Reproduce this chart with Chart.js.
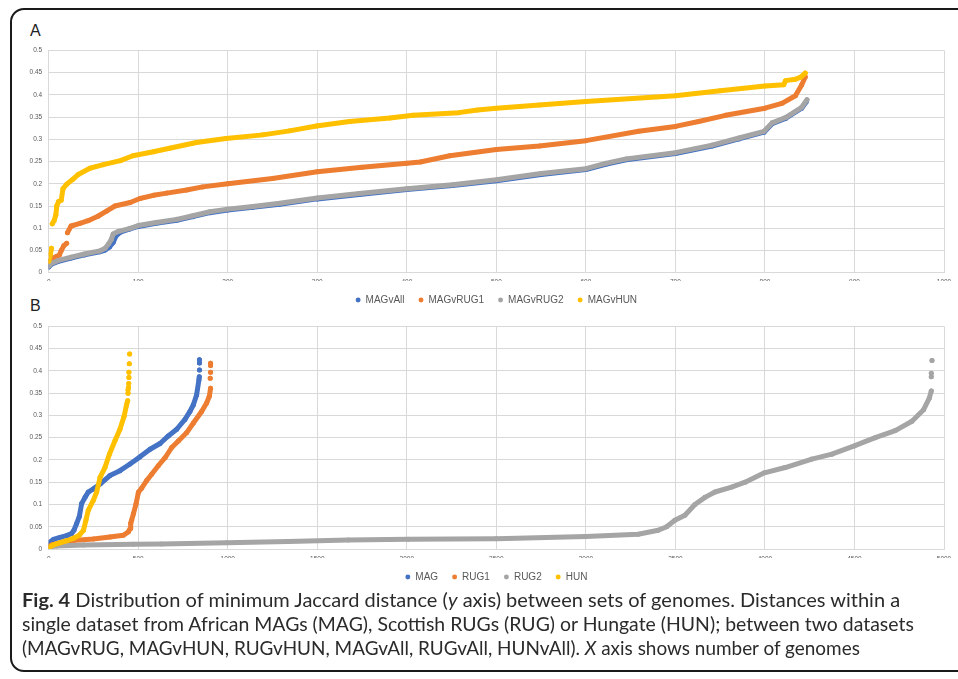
<!DOCTYPE html>
<html>
<head>
<meta charset="utf-8">
<script src="https://cdn.jsdelivr.net/npm/chart.js@4"></script>
<style>
  html, body { margin: 0; padding: 0; background: #fff; }
  body { width: 958px; height: 679px; overflow: hidden; position: relative; font-family: "Liberation Sans", Arial, sans-serif; }
  #frame { position: absolute; left: 10px; top: 8px; width: 1000px; height: 660px; border: 2px solid #1a1a1a; border-radius: 14px; }
  .panel { position: absolute; font-size: 16px; line-height: 16px; color: #222; }
  .box { position: absolute; left: 0; }
  .cap { position: absolute; left: 22px; font-family: Lato, "Open Sans", sans-serif; font-size: 19px; line-height: 24px; color: #2b2b2b; white-space: nowrap; transform-origin: 0 50%; }
</style>
</head>
<body>
<div id="frame"></div>
<div class="panel" style="left:30px;top:23px">A</div>
<div class="panel" style="left:30px;top:298px">B</div>
<div class="box" style="top:40px"><canvas id="chartA" width="958" height="275"></canvas></div>
<div class="box" style="top:316px"><canvas id="chartB" width="958" height="276"></canvas></div>
<div class="cap" style="top:588px" data-w="878"><b>Fig. 4</b> Distribution of minimum Jaccard distance (<i>y</i> axis) between sets of genomes. Distances within a</div>
<div class="cap" style="top:612px" data-w="892">single dataset from African MAGs (MAG), Scottish RUGs (RUG) or Hungate (HUN); between two datasets</div>
<div class="cap" style="top:636px" data-w="838">(MAGvRUG, MAGvHUN, RUGvHUN, MAGvAll, RUGvAll, HUNvAll). <i>X</i> axis shows number of genomes</div>
<script>
// tick labels
const yTickLabels = ['0', '0.05', '0.1', '0.15', '0.2', '0.25', '0.3', '0.35', '0.4', '0.45', '0.5'];
const xTickLabelsA = ['0', '100', '200', '300', '400', '500', '600', '700', '800', '900', '1000'];
const xTickLabelsB = ['0', '500', '1000', '1500', '2000', '2500', '3000', '3500', '4000', '4500', '5000'];

// panel A series names
const seriesA = ['MAGvAll', 'MAGvRUG1', 'MAGvRUG2', 'MAGvHUN'];
// panel B series names
const seriesB = ['MAG', 'RUG1', 'RUG2', 'HUN'];

const colors = ['#4472C4', '#ED7D31', '#A5A5A5', '#FFC000'];

// panel A values [genome number, min Jaccard distance]
const magVAll = [[0,0.013],[3,0.019],[10,0.025],[25,0.033],[40,0.04],[57,0.047],[63,0.051],[68,0.058],[72,0.068],[75,0.082],[80,0.091],[90,0.098],[100,0.104],[120,0.111],[143,0.118],[161,0.126],[180,0.135],[200,0.141],[228,0.147],[258,0.154],[300,0.166],[347,0.176],[400,0.187],[451,0.196],[500,0.207],[550,0.221],[600,0.232],[622,0.244],[645,0.254],[700,0.268],[741,0.285],[771,0.301],[799,0.316],[808,0.335],[823,0.347],[841,0.37],[846,0.384]];
const magVRug1Start = [[0,0.025],[3,0.031],[8,0.036],[12,0.04],[14,0.05],[17,0.061],[20,0.066]];
const magVRug1 = [[21,0.09],[25,0.105],[35,0.111],[44,0.117],[55,0.127],[65,0.139],[74,0.15],[91,0.158],[102,0.167],[117,0.174],[132,0.179],[154,0.186],[172,0.193],[200,0.2],[250,0.212],[300,0.227],[350,0.237],[400,0.246],[415,0.249],[448,0.263],[500,0.277],[548,0.285],[600,0.297],[659,0.318],[700,0.329],[726,0.34],[756,0.354],[800,0.37],[819,0.381],[834,0.398],[841,0.422],[845,0.44]];
const magVRug2 = [[0,0.015],[3,0.021],[10,0.027],[25,0.035],[40,0.042],[57,0.049],[63,0.055],[67,0.065],[70,0.075],[72,0.087],[78,0.093],[90,0.099],[100,0.106],[120,0.113],[143,0.12],[161,0.128],[180,0.137],[200,0.143],[228,0.149],[258,0.156],[300,0.168],[347,0.178],[400,0.189],[451,0.198],[500,0.209],[550,0.223],[600,0.234],[622,0.246],[645,0.256],[700,0.27],[741,0.287],[771,0.303],[799,0.318],[808,0.337],[823,0.349],[841,0.372],[847,0.389]];
const magVHunStart = [[0,0.026],[2,0.042],[3,0.055]];
const magVHun = [[4,0.11],[6,0.117],[8,0.13],[9,0.15],[11,0.16],[14,0.163],[16,0.189],[20,0.199],[27,0.21],[33,0.221],[46,0.235],[61,0.243],[80,0.252],[94,0.263],[117,0.272],[135,0.28],[165,0.293],[198,0.302],[239,0.31],[269,0.319],[299,0.33],[336,0.34],[381,0.348],[407,0.354],[458,0.36],[479,0.366],[500,0.37],[548,0.377],[600,0.385],[700,0.398],[750,0.409],[800,0.42],[821,0.423],[823,0.432],[834,0.435],[840,0.44],[845,0.449]];

// panel B values
const mag = [[0,0.014],[26,0.0215],[63,0.026],[100,0.03],[128,0.035],[141,0.042],[156,0.057],[171,0.073],[184,0.102],[203,0.116],[221,0.128],[249,0.135],[287,0.146],[342,0.165],[398,0.176],[454,0.191],[510,0.207],[566,0.224],[622,0.237],[668,0.254],[715,0.269],[761,0.291],[789,0.309],[808,0.324],[826,0.346],[839,0.38],[841,0.387]];
const magTop = [[842,0.402],[842,0.418],[842,0.425]];
const rug1 = [[0,0.006],[17,0.009],[63,0.0137],[137,0.019],[249,0.0225],[342,0.027],[417,0.031],[445,0.0386],[455,0.046],[458,0.058],[463,0.0645],[473,0.079],[488,0.1016],[501,0.1276],[519,0.1365],[547,0.1536],[575,0.168],[612,0.187],[650,0.205],[687,0.228],[724,0.2426],[770,0.261],[808,0.283],[854,0.309],[882,0.328],[897,0.343],[904,0.361]];
const rug1Top = [[902,0.3835],[904,0.397],[904,0.412],[904,0.417]];
const rug2 = [[0,0.004],[45,0.007],[194,0.009],[473,0.0104],[631,0.011],[994,0.014],[1338,0.017],[1673,0.02],[2008,0.022],[2500,0.023],[3000,0.028],[3292,0.033],[3404,0.042],[3451,0.05],[3497,0.0645],[3553,0.076],[3609,0.1],[3665,0.116],[3721,0.128],[3814,0.139],[3889,0.15],[3997,0.171],[4113,0.183],[4262,0.202],[4374,0.213],[4499,0.2315],[4616,0.25],[4728,0.266],[4821,0.287],[4886,0.313],[4918,0.339],[4929,0.355]];
const rug2Top = [[4929,0.387],[4929,0.395],[4933,0.4236]];
const hun = [[0,0.001],[7,0.005],[26,0.009],[63,0.014],[100,0.0185],[138,0.024],[171,0.031],[194,0.042],[208,0.065],[221,0.087],[249,0.109],[268,0.128],[287,0.161],[314,0.183],[339,0.213],[370,0.243],[398,0.269],[421,0.298],[435,0.324],[441,0.333]];
const hunTop = [[443,0.35],[443,0.357],[445,0.363],[447,0.372],[448,0.385],[448,0.397],[450,0.416],[452,0.438]];

// turn [x,y] lists into chart points, a null y breaks the line between parts
function pts(arr) {
    return arr.map(p => ({ x: p[0], y: p[1] }));
}
function dots(arr) {
    return arr.flatMap(p => [{ x: p[0], y: null }, { x: p[0], y: p[1] }]);
}
function joinParts(...parts) {
    let out = [];
    parts.forEach((p, i) => {
        if (i > 0) out.push({ x: p[0][0], y: null });
        out = out.concat(pts(p));
    });
    return out;
}

function makeDataset(label, data, i) {
    return {
        label: label,
        data: data,
        showLine: true,
        spanGaps: false,
        borderColor: colors[i],
        backgroundColor: colors[i],
        pointBackgroundColor: colors[i],
        pointBorderWidth: 0,
        pointRadius: 2.5,
        pointHoverRadius: 2.5,
        borderWidth: 5,
        borderCapStyle: 'round',
        borderJoinStyle: 'round',
        tension: 0,
        order: 3 - i   // later series on top, like the original
    };
}

const tickFont = { family: 'Liberation Sans', size: 6.5 };
const gridColor = '#D9D9D9';

function makeOptions(xMax, xStep, xLabels, xAxisHeight) {
    return {
        responsive: false,
        animation: false,
        events: [],
        layout: { padding: { left: 8, right: 14, top: 8.3, bottom: 0 } },
        scales: {
            x: {
                type: 'linear',
                min: 0, max: xMax,
                afterFit: s => { s.height = xAxisHeight; },
                grid: { color: gridColor, lineWidth: 1, drawTicks: false },
                border: { color: gridColor },
                ticks: {
                    stepSize: xStep,
                    padding: 6,
                    maxRotation: 0,
                    autoSkip: false,
                    color: '#595959',
                    font: tickFont,
                    callback: (v, idx) => xLabels[idx]
                }
            },
            y: {
                min: 0, max: 0.5,
                afterFit: s => { s.width = 40.7; },
                grid: { color: gridColor, lineWidth: 1, drawTicks: false },
                border: { color: gridColor },
                ticks: {
                    stepSize: 0.05,
                    padding: 6.5,
                    color: '#595959',
                    font: tickFont,
                    callback: (v, idx) => yTickLabels[idx]
                }
            }
        },
        plugins: {
            legend: {
                position: 'bottom',
                fullSize: false,
                labels: {
                    usePointStyle: true,
                    pointStyle: 'circle',
                    boxWidth: 5,
                    boxHeight: 3.5,
                    padding: 14,
                    color: '#595959',
                    font: { family: 'Liberation Sans', size: 10 },
                    sort: (a, b) => a.datasetIndex - b.datasetIndex
                }
            },
            tooltip: { enabled: false }
        }
    };
}

const dataA = [
    pts(magVAll),
    joinParts(magVRug1Start, magVRug1),
    pts(magVRug2),
    joinParts(magVHunStart, magVHun)
];
const dataB = [
    pts(mag).concat(dots(magTop)),
    pts(rug1).concat(dots(rug1Top)),
    pts(rug2).concat(dots(rug2Top)),
    pts(hun).concat(dots(hunTop))
];

new Chart(document.getElementById('chartA'), {
    type: 'scatter',
    data: { datasets: seriesA.map((s, i) => makeDataset(s, dataA[i], i)) },
    options: makeOptions(1000, 100, xTickLabelsA, 8.3)
});

new Chart(document.getElementById('chartB'), {
    type: 'scatter',
    data: { datasets: seriesB.map((s, i) => makeDataset(s, dataB[i], i)) },
    options: makeOptions(5000, 500, xTickLabelsB, 9)
});

// squeeze caption lines to the width they have in the figure
document.querySelectorAll('.cap').forEach(el => {
    const target = parseFloat(el.dataset.w);
    const w = el.scrollWidth;
    el.style.transform = 'scaleX(' + (target / w) + ')';
});
</script>
</body>
</html>
